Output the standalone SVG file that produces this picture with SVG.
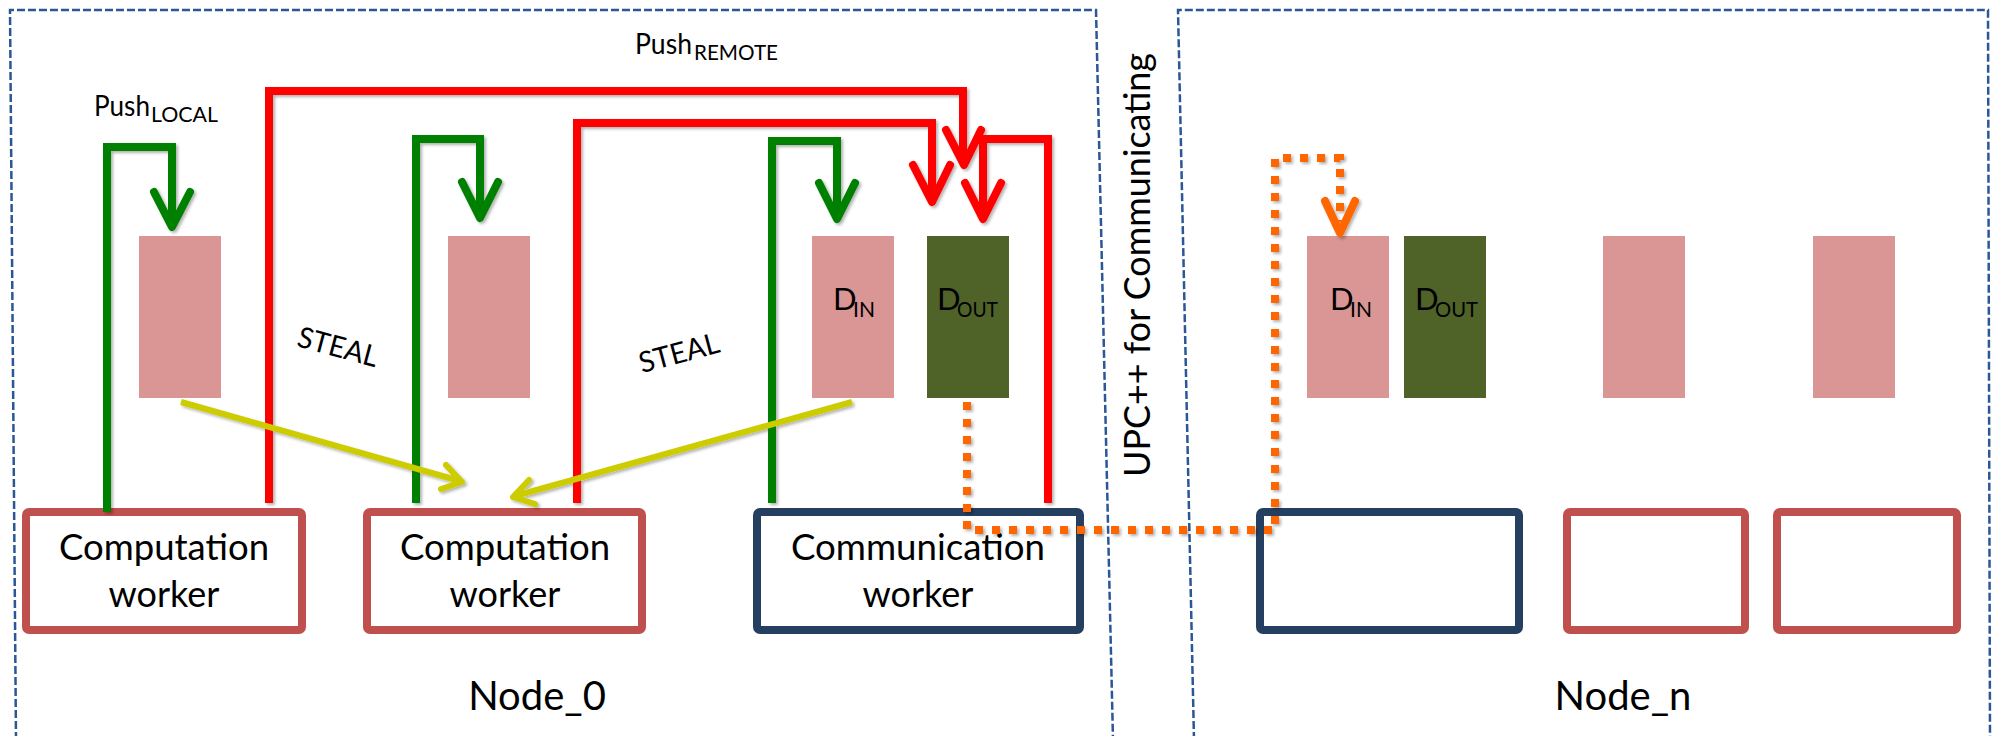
<svg xmlns="http://www.w3.org/2000/svg" width="1997" height="736" viewBox="0 0 1997 736">
  <style>
    text { font-family: Lato, "Liberation Sans", sans-serif; fill: #000; }
    .frame { fill: none; stroke: #2B5797; stroke-width: 2.5; stroke-dasharray: 8 3; }
    .queue { fill: #D99694; }
    .queue-out { fill: #4F6228; }
    .comp { fill: #fff; stroke: #C0504D; stroke-width: 8; }
    .comm { fill: #fff; stroke: #243F60; stroke-width: 8; }
    .wire { fill: none; stroke-width: 8; stroke-linejoin: miter; stroke-linecap: butt; }
    .head { fill: none; stroke-width: 8; stroke-linejoin: round; stroke-linecap: round; }
    .green { stroke: #008000; }
    .red { stroke: #FF0000; }
    .yellow { fill: none; stroke: #CCCC00; stroke-width: 6; stroke-linecap: butt; }
    .yhead { fill: none; stroke: #CCCC00; stroke-width: 6; stroke-linecap: round; stroke-linejoin: round; }
    .orange { fill: none; stroke: #FF6600; stroke-width: 8; stroke-dasharray: 8 9; }
    .ohead { fill: none; stroke: #FF6600; stroke-width: 8; stroke-linecap: round; stroke-linejoin: round; }
    .label { font-size: 36px; text-anchor: middle; }
    .node { font-size: 40px; text-anchor: middle; }
    .d { font-size: 31px; }
    .sub { font-size: 21px; }
  </style>
  <defs>
    <filter id="shadow" x="-5%" y="-5%" width="110%" height="110%">
      <feDropShadow dx="2" dy="2" stdDeviation="1.5" flood-color="#000" flood-opacity="0.3"/>
    </filter>
  </defs>

  <rect width="1997" height="736" fill="#fff"/>

  <!-- node frames -->
  <g id="node0-frame">
    <path class="frame" d="M16 740 L10 10 L1096 10 L1113 740"/>
    <text class="node" x="537" y="710">Node_0</text>
  </g>
  <g id="noden-frame">
    <path class="frame" d="M1194 740 L1178 10 L1988 10 L1990 740"/>
    <text class="node" x="1623" y="710">Node_n</text>
  </g>
  <g id="upc-label">
    <text transform="translate(1150,477) rotate(-90)" font-size="37" textLength="424" lengthAdjust="spacingAndGlyphs">UPC++ for Communicating</text>
  </g>

  <!-- task queues -->
  <g id="queue-0a"><rect class="queue" x="139" y="236" width="82" height="162"/></g>
  <g id="queue-0b"><rect class="queue" x="448" y="236" width="82" height="162"/></g>
  <g id="queue-0-in">
    <rect class="queue" x="812" y="236" width="82" height="162"/>
    <text class="d" x="833" y="310">D<tspan class="sub" x="853" y="317">IN</tspan></text>
  </g>
  <g id="queue-0-out">
    <rect class="queue-out" x="927" y="236" width="82" height="162"/>
    <text class="d" x="937" y="310">D<tspan class="sub" x="957" y="317" textLength="41" lengthAdjust="spacingAndGlyphs">OUT</tspan></text>
  </g>
  <g id="queue-n-in">
    <rect class="queue" x="1307" y="236" width="82" height="162"/>
    <text class="d" x="1330" y="310">D<tspan class="sub" x="1350" y="317">IN</tspan></text>
  </g>
  <g id="queue-n-out">
    <rect class="queue-out" x="1404" y="236" width="82" height="162"/>
    <text class="d" x="1415" y="310">D<tspan class="sub" x="1435" y="317" textLength="43" lengthAdjust="spacingAndGlyphs">OUT</tspan></text>
  </g>
  <g id="queue-nb"><rect class="queue" x="1603" y="236" width="82" height="162"/></g>
  <g id="queue-nc"><rect class="queue" x="1813" y="236" width="82" height="162"/></g>

  <!-- workers -->
  <g id="worker-0a">
    <rect class="comp" x="26" y="512" width="276" height="118" rx="3"/>
    <text class="label" x="164" y="560" textLength="210" lengthAdjust="spacingAndGlyphs">Computation</text>
    <text class="label" x="164" y="607">worker</text>
  </g>
  <g id="worker-0b">
    <rect class="comp" x="367" y="512" width="275" height="118" rx="3"/>
    <text class="label" x="505" y="560" textLength="210" lengthAdjust="spacingAndGlyphs">Computation</text>
    <text class="label" x="505" y="607">worker</text>
  </g>
  <g id="worker-0-comm">
    <rect class="comm" x="757" y="512" width="323" height="118" rx="3"/>
    <text class="label" x="918" y="560" textLength="254" lengthAdjust="spacingAndGlyphs">Communication</text>
    <text class="label" x="918" y="607">worker</text>
  </g>
  <g id="worker-n-comm"><rect class="comm" x="1260" y="512" width="259" height="118" rx="3"/></g>
  <g id="worker-nb"><rect class="comp" x="1567" y="512" width="178" height="118" rx="3"/></g>
  <g id="worker-nc"><rect class="comp" x="1777" y="512" width="180" height="118" rx="3"/></g>

  <!-- labels on the edges -->
  <g id="edge-labels">
    <text font-size="29"><tspan x="94" y="116" textLength="56" lengthAdjust="spacingAndGlyphs">Push</tspan><tspan x="151" y="122" font-size="21" textLength="67" lengthAdjust="spacingAndGlyphs">LOCAL</tspan></text>
    <text font-size="29"><tspan x="635" y="54" textLength="57" lengthAdjust="spacingAndGlyphs">Push</tspan><tspan x="694" y="60" font-size="21" textLength="84" lengthAdjust="spacingAndGlyphs">REMOTE</tspan></text>
    <text transform="translate(338,347) rotate(15)" font-size="29" text-anchor="middle" y="10" textLength="82" lengthAdjust="spacingAndGlyphs">STEAL</text>
    <text transform="translate(679,353) rotate(-15)" font-size="29" text-anchor="middle" y="10" textLength="82" lengthAdjust="spacingAndGlyphs">STEAL</text>
  </g>

  <!-- connectors -->
  <g id="connectors" filter="url(#shadow)">
    <!-- local pushes -->
    <path class="wire green" d="M107 512 V147 H172 V224"/>
    <path class="head green" d="M154 192 L172 227 L190 192"/>
    <path class="wire green" d="M416 503 V139 H480 V215"/>
    <path class="head green" d="M462 182 L480 218 L498 182"/>
    <path class="wire green" d="M772 503 V141 H837 V216"/>
    <path class="head green" d="M819 183 L837 219 L855 183"/>
    <!-- remote pushes -->
    <path class="wire red" d="M269 503 V91 H963 V162"/>
    <path class="head red" d="M946 130 L964 165 L981 130"/>
    <path class="wire red" d="M577 503 V123 H932 V199"/>
    <path class="head red" d="M913 165 L932 202 L950 165"/>
    <path class="wire red" d="M1048 503 V139 H983 V216"/>
    <path class="head red" d="M965 183 L983 219 L1001 183"/>
    <!-- steals -->
    <path class="yellow" d="M181 402 L460 481"/>
    <path class="yhead" d="M446 465 L462 482 L441 489"/>
    <path class="yellow" d="M852 402 L515 496"/>
    <path class="yhead" d="M529 480 L513 497 L535 504"/>
    <!-- inter-node transfer -->
    <path class="orange" d="M967 402 V530 H1275 V158 H1340 V222"/>
    <path class="ohead" d="M1325 201 L1340 233 L1355 201"/>
  </g>
</svg>
